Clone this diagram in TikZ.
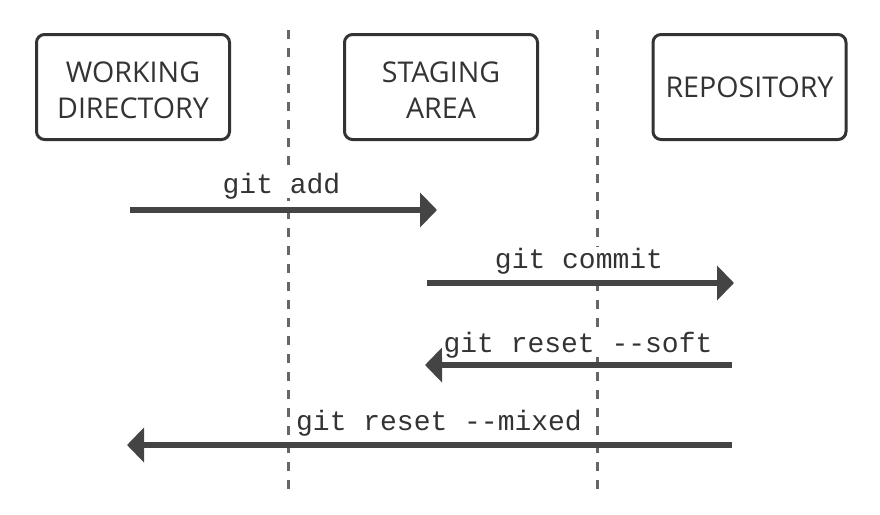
\documentclass[tikz,border=0pt]{standalone}
\usepackage{fontspec}
\setmainfont{Open Sans}
\setmonofont{Liberation Mono}
\usetikzlibrary{arrows.meta}
\definecolor{boxline}{HTML}{333333}
\definecolor{boxtext}{HTML}{333333}
\definecolor{lanegray}{HTML}{666666}
\definecolor{arrowgray}{HTML}{444444}
\begin{document}
\begin{tikzpicture}[x=1pt,y=-1pt]
\tikzset{
  stage/.style={draw=boxline, line width=3pt, rounded corners=8pt,
    minimum width=193pt, minimum height=105pt, inner sep=0pt},
  stagetext/.style={inner sep=0pt, align=center, text=boxtext,
    font=\fontsize{28.6}{36}\selectfont},
  lane/.style={draw=lanegray, line width=3pt, dash pattern=on 9pt off 9pt},
  cmd/.style={draw=arrowgray, line width=6pt,
    -{Triangle[length=17pt,width=34pt]}},
  cmdlabel/.style={anchor=base, inner xsep=2pt, inner ysep=0pt,
    text height=21pt, text depth=5pt, fill=white, text=boxtext,
    font=\fontsize{28}{28}\ttfamily}
}
\useasboundingbox (0,0) rectangle (880,514);

% swim-lane separators
\coordinate (laneAtop) at (288,30);
\coordinate (laneAbot) at (288,490);
\coordinate (laneBtop) at (597,30);
\coordinate (laneBbot) at (597,490);
\draw[lane] (laneAtop) -- (laneAbot);
\draw[lane] (laneBtop) -- (laneBbot);

% the three areas
\node[stage] (wd)   at (133,87)   {};
\node[stage] (stg)  at (441,87)   {};
\node[stage] (repo) at (749.5,87) {};
\node[stagetext] (wdT)   at (133,90.5)   {WORKING\\DIRECTORY};
\node[stagetext] (stgT)  at (441,90.5)   {STAGING\\AREA};
\node[stagetext] (repoT) at (749.5,87)   {REPOSITORY};

% command arrows
\coordinate (addA) at (130,210);  \coordinate (addB) at (437,210);
\coordinate (comA) at (427,283);  \coordinate (comB) at (734,283);
\coordinate (softA) at (732,365); \coordinate (softB) at (425,365);
\coordinate (mixA) at (732,445);  \coordinate (mixB) at (127,445);

\draw[cmd] (addA) -- (addB);
\draw[cmd] (comA) -- (comB);
\draw[cmd] (softA) -- (softB);
\draw[cmd] (mixA) -- (mixB);

\node[cmdlabel] (addL)  at (281.5,193) {git add};
\node[cmdlabel] (comL)  at (579,268)   {git commit};
\node[cmdlabel] (softL) at (578,352)   {git reset --soft};
\node[cmdlabel] (mixL)  at (439,430)   {git reset --mixed};
\end{tikzpicture}
\end{document}
